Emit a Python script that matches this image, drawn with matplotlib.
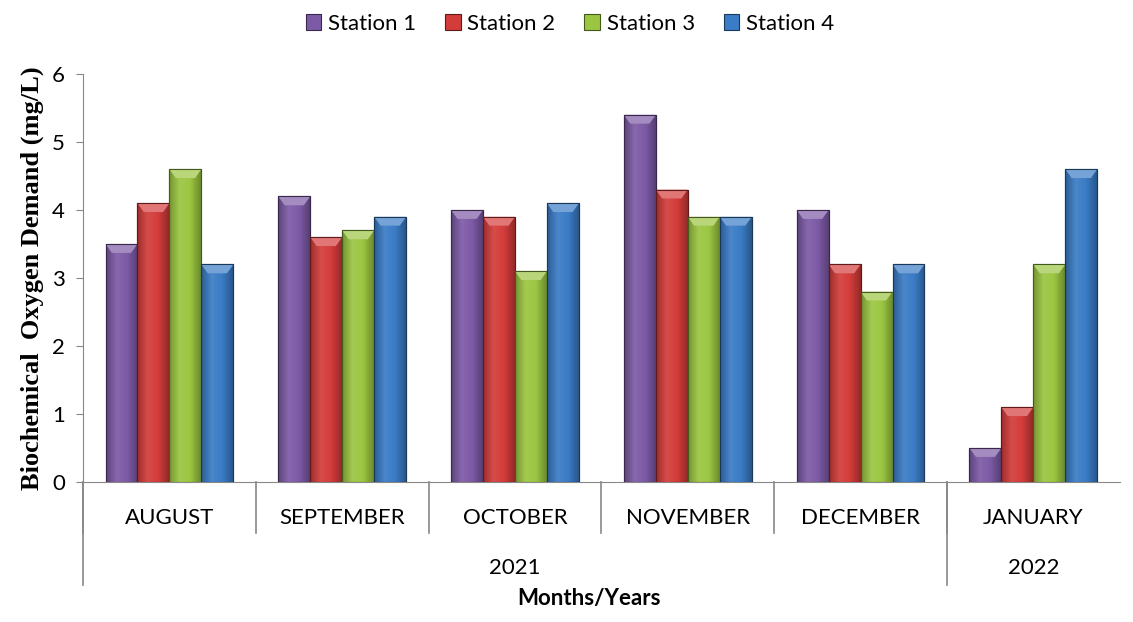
import numpy as np
import matplotlib.pyplot as plt
from matplotlib.colors import to_rgb, LinearSegmentedColormap
from matplotlib.patches import Polygon

months = ['AUGUST', 'SEPTEMBER', 'OCTOBER', 'NOVEMBER', 'DECEMBER', 'JANUARY']
years = ['2021', '2022']
year_spans = [(0, 4), (5, 5)]  # first and last month index per year
stations = ['Station 1', 'Station 2', 'Station 3', 'Station 4']

station1 = [3.5, 4.2, 4.0, 5.4, 4.0, 0.5]
station2 = [4.1, 3.6, 3.9, 4.3, 3.2, 1.1]
station3 = [4.6, 3.7, 3.1, 3.9, 2.8, 3.2]
station4 = [3.2, 3.9, 4.1, 3.9, 3.2, 4.6]

colors = ['#7d5aa6', '#d33c3a', '#9bc641', '#3a7cc6']

plt.rcParams['font.family'] = ['Lato', 'DejaVu Sans']

fig = plt.figure(figsize=(11.33, 6.22), dpi=100)
ax = fig.add_axes([0.0733, 0.225, 0.915, 0.656])

x = np.arange(len(months))
w = 0.185
series = [station1, station2, station3, station4]


def shade(c, f):
    r = np.array(to_rgb(c))
    if f < 0:
        return tuple(r * (1 + f))
    return tuple(r + (1 - r) * f)


def glossy_bars(ax, xs, vals, color, label):
    edge = shade(color, -0.55)
    bars = ax.bar(xs, vals, w, color=color, edgecolor=edge,
                  linewidth=0.8, label=label, zorder=3)
    cmap = LinearSegmentedColormap.from_list(
        'g', [shade(color, -0.25), shade(color, 0.08), color, shade(color, -0.3)])
    grad = np.linspace(0, 1, 64).reshape(1, -1)
    for b in bars:
        x0, y0 = b.get_x(), b.get_y()
        bw, bh = b.get_width(), b.get_height()
        im = ax.imshow(grad, cmap=cmap, aspect='auto', extent=(x0, x0 + bw, y0, y0 + bh),
                       zorder=3.5, interpolation='bicubic')
        im.set_clip_path(b)
        # bevelled top
        d = min(0.13, bh)
        ax.add_patch(Polygon([(x0, y0 + bh), (x0 + bw, y0 + bh),
                              (x0 + bw * 0.8, y0 + bh - d), (x0 + bw * 0.2, y0 + bh - d)],
                             closed=True, facecolor=shade(color, 0.3), edgecolor='none',
                             zorder=3.6))
        ax.add_patch(Polygon([(x0, y0), (x0 + bw, y0), (x0 + bw, y0 + bh), (x0, y0 + bh)],
                             closed=True, fill=False, edgecolor=edge,
                             linewidth=0.8, zorder=3.7))
    return bars


for i, (vals, c, name) in enumerate(zip(series, colors, stations)):
    glossy_bars(ax, x + (i - 1.5) * w, vals, c, name)

ax.set_xlim(-0.5, len(months) - 0.5)
ax.set_ylim(0, 6)
ax.set_yticks(range(0, 7))
ax.tick_params(axis='y', labelsize=16, length=5, color='#888888', pad=8)
ax.set_ylabel('Biochemical  Oxygen Demand (mg/L)', family=['Liberation Serif'],
              fontweight='bold', fontsize=19, labelpad=6)

for s in ['top', 'right']:
    ax.spines[s].set_visible(False)
ax.spines['left'].set_color('#888888')
ax.spines['bottom'].set_color('#888888')

# month labels and separators
ax.set_xticks(x)
ax.set_xticklabels(months, fontsize=16)
ax.tick_params(axis='x', length=0, pad=19)
tr = ax.get_xaxis_transform()
for b in np.arange(len(months)) - 0.5:
    ax.plot([b, b], [0, -0.125], transform=tr, color='#888888', lw=1.2, clip_on=False)
for (a, e), yr in zip(year_spans, years):
    ax.plot([a - 0.5, a - 0.5], [0, -0.252], transform=tr, color='#888888', lw=1.2, clip_on=False)
    ax.text((a + e) / 2, -0.21, yr, transform=tr, ha='center', va='center', fontsize=16)

ax.text(2.43, -0.285, 'Months/Years', transform=tr,
        ha='center', va='center', fontsize=16, fontweight='bold')

fig.legend(loc='upper center', bbox_to_anchor=(0.503, 1.01), ncol=4, frameon=False,
           fontsize=16, handlelength=0.7, handleheight=0.7, handletextpad=0.3,
           columnspacing=1.3)

fig.savefig('out.png', dpi=100)
